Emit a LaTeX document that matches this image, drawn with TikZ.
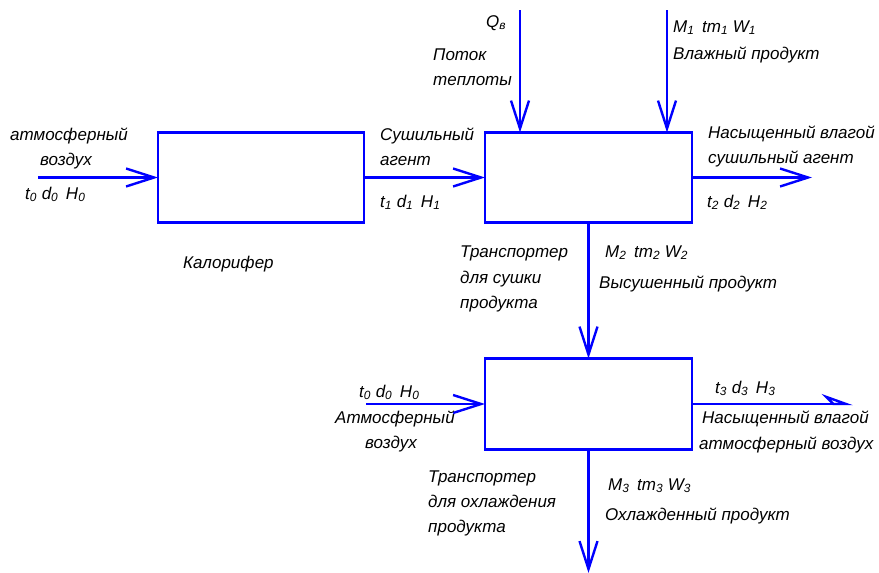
\documentclass[tikz,border=0pt]{standalone}
\usepackage{fontspec}
\setmainfont{Liberation Sans}
\usetikzlibrary{arrows.meta}
\definecolor{flow}{RGB}{0,0,255}
\newcommand\lo[1]{\textsubscript{#1}}
\newcommand\gap{\hspace{0.45em}}

\begin{document}
\begin{tikzpicture}[x=1pt,y=-1pt,
  unit/.style={draw=flow, line width=2.4pt, inner sep=0pt, outer sep=0pt},
  stream/.style={draw=flow, line width=2.4pt,
    -{Straight Barb[length=28pt,width=18pt,line width=2.4pt]}},
  halfstream/.style={draw=flow, line width=2.4pt,
    -{Stealth[open,harpoon,length=28pt,width=20pt,inset=10pt,line width=2.4pt]}},
  lbl/.style={anchor=base west, inner sep=0pt,
    font=\fontsize{17}{20}\selectfont\itshape}]

\useasboundingbox (0,0) rectangle (879,573);

% process units
\node[unit, minimum width=206pt, minimum height=90pt] (heater) at (261,177.5) {};
\node[unit, minimum width=207pt, minimum height=90pt] (dryer)  at (588.5,177.5) {};
\node[unit, minimum width=207pt, minimum height=91pt] (cooler) at (588.5,404) {};

% free ends of the streams
\coordinate (airin)   at (38,177.5);
\coordinate (heatin)  at (520,10);
\coordinate (wetin)   at (667,10);
\coordinate (dryout)  at (812,177.5);
\coordinate (coolin)  at (366,404);
\coordinate (coolout) at (853,404);
\coordinate (prodout) at (588.5,573);

% streams
\draw[stream] (airin) -- (heater.west);
\draw[stream] (heater.east) -- (dryer.west);
\draw[stream] (heatin) -- (heatin |- dryer.north);
\draw[stream] (wetin) -- (wetin |- dryer.north);
\draw[stream] (dryer.east) -- (dryout);
\draw[stream] (dryer.south) -- (cooler.north);
\draw[stream] (coolin) -- (cooler.west);
\draw[halfstream] (cooler.east) -- (coolout);
\draw[stream] (cooler.south) -- (prodout);

% heater side
\node[lbl] (t1) at (10,140) {атмосферный};
\node[lbl] (t2) at (40,165) {воздух};
\node[lbl] (t3) at (25,199) {t\lo{0} d\lo{0}\gap H\lo{0}};
\node[lbl] (t4) at (183,268) {Калорифер};

% heater to dryer
\node[lbl] (t5) at (380,140) {Сушильный};
\node[lbl] (t6) at (380,165) {агент};
\node[lbl] (t7) at (380,207) {t\lo{1} d\lo{1}\gap H\lo{1}};

% heat supply
\node[lbl] (t8) at (486,27) {Q\lo{в}};
\node[lbl] (t9) at (433,60) {Поток};
\node[lbl] (t10) at (433,85) {теплоты};

% wet product
\node[lbl] (t11) at (673,32) {M\lo{1}\gap tm\lo{1} W\lo{1}};
\node[lbl] (t12) at (673,59) {Влажный продукт};

% spent drying agent
\node[lbl] (t13) at (708,138) {Насыщенный влагой};
\node[lbl] (t14) at (708,163) {сушильный агент};
\node[lbl] (t15) at (707,207) {t\lo{2} d\lo{2}\gap H\lo{2}};

% dried product
\node[lbl] (t16) at (460,257) {Транспортер};
\node[lbl] (t17) at (460,283) {для сушки};
\node[lbl] (t18) at (460,308) {продукта};
\node[lbl] (t19) at (605,257) {M\lo{2}\gap tm\lo{2} W\lo{2}};
\node[lbl] (t20) at (599,288) {Высушенный продукт};

% cooling air in
\node[lbl] (t21) at (359,397) {t\lo{0} d\lo{0}\gap H\lo{0}};
\node[lbl] (t22) at (335,423) {Атмосферный};
\node[lbl] (t23) at (365,448) {воздух};

% cooling air out
\node[lbl] (t24) at (715,393) {t\lo{3} d\lo{3}\gap H\lo{3}};
\node[lbl] (t25) at (702,423) {Насыщенный влагой};
\node[lbl] (t26) at (699,449) {атмосферный воздух};

% cooled product
\node[lbl] (t27) at (428,482) {Транспортер};
\node[lbl] (t28) at (428,507) {для охлаждения};
\node[lbl] (t29) at (428,532) {продукта};
\node[lbl] (t30) at (608,490) {M\lo{3}\gap tm\lo{3} W\lo{3}};
\node[lbl] (t31) at (605,520) {Охлажденный продукт};
\end{tikzpicture}
\end{document}
